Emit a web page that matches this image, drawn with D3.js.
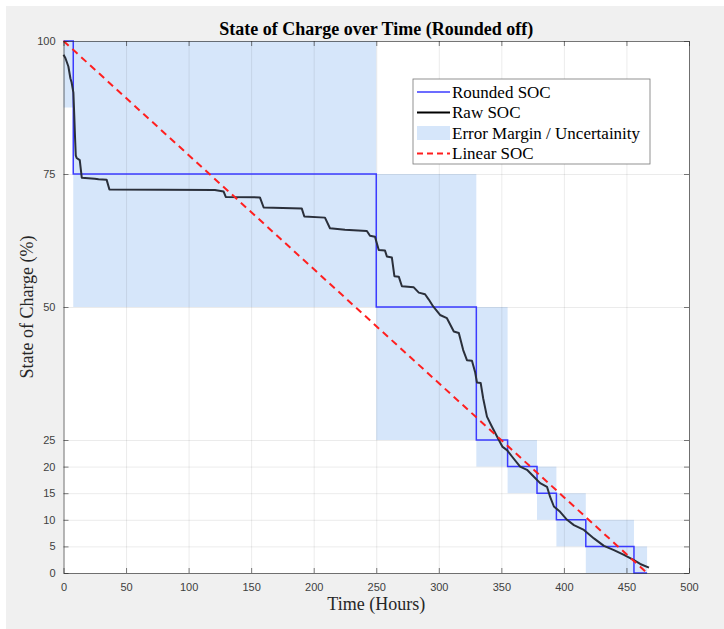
<!DOCTYPE html>
<html>
<head>
<meta charset="utf-8">
<script src="https://cdn.jsdelivr.net/npm/d3@7"></script>
<style>
  body { margin: 0; background: #f0f0f0; }
  svg { display: block; }
  .tick text { font-family: "Liberation Sans", Arial, sans-serif; font-size: 11px; fill: #404040; }
</style>
</head>
<body>
<script>
// figure size and axes box
var W = 724, H = 629;
var margin = {top: 41, right: 35, bottom: 56, left: 63.5};
var width = W - margin.left - margin.right;
var height = H - margin.top - margin.bottom;

// rounded SOC steps: level held from stepTime[i] to stepTime[i+1]
var stepTime = [0, 7.8, 250, 330, 355, 378.5, 394, 417.5, 456, 466.5];
var stepSoc = [100, 75, 50, 25, 20, 15, 10, 5, 0];
// error band around each step
var bandLow = [87.5, 50, 25, 20, 15, 10, 5, 0, 0];
var bandHigh = [100, 100, 75, 50, 25, 20, 15, 10, 5];

// straight-line SOC
var linearTime = [0, 466.5];
var linearSoc = [100, 0];

// raw measured SOC
var rawTime = [0, 1.5, 3.9, 5.5, 6.5, 7.9, 8.6, 9.2, 9.8, 10.5, 13, 14.6, 25, 28, 34.5, 36.7,
  121, 128, 129.7, 157, 160, 190.5, 192.5, 209, 213, 225, 242.5, 245, 249, 252, 257, 258.5,
  262.5, 264.5, 268, 270.5, 280, 284, 289, 292, 295.5, 301, 306.5, 312, 316, 319.5, 322.5,
  326.5, 329, 330.5, 333.5, 335.5, 338.5, 342.5, 348, 351, 354.5, 358.5, 365, 370.5, 376,
  381, 386.5, 389, 392, 397, 402.5, 408, 416, 424, 432, 440, 448, 456, 461, 468];
var rawSoc = [97.4, 96.8, 95.2, 93, 92.2, 90.3, 86, 82, 78.5, 78, 77.6, 74.3, 74.1, 74.0, 73.9, 72.1,
  72.0, 71.7, 70.7, 70.6, 68.7, 68.5, 67.0, 66.8, 64.8, 64.5, 64.3, 63.4, 63.2, 60.7, 60.6, 59.5,
  59.3, 55.8, 55.7, 53.9, 53.7, 52.7, 52.4, 51.4, 50.1, 48.5, 47.9, 45.4, 45.1, 41.9, 40.0,
  39.9, 37.8, 35.8, 35.7, 32.8, 29.4, 27.5, 25.0, 23.7, 23.1, 21.9, 20, 19.4, 18.1,
  16.9, 16.2, 14.3, 12.5, 11.5, 10.0, 9.0, 8.1, 6.5, 5.1, 4.3, 3.4, 2.4, 1.7, 1.0];

var xTicks = [0, 50, 100, 150, 200, 250, 300, 350, 400, 450, 500];
var yTicks = [0, 5, 10, 15, 20, 25, 50, 75, 100];

var legendNames = ["Rounded SOC", "Raw SOC", "Error Margin / Uncertainity", "Linear SOC"];

var blue = "#3b3bff", fillBlue = "#d6e6fa", red = "#ff1f1f", dark = "#2a2f3a";

var root = d3.select("body").append("svg").attr("width", W).attr("height", H);
root.append("rect").attr("width", W).attr("height", H).attr("fill", "#f0f0f0");
// thin white strip on top and left, as in the screenshot
root.append("rect").attr("width", W).attr("height", 6).attr("fill", "#fff");
root.append("rect").attr("width", 6).attr("height", H).attr("fill", "#fff");

var svg = root.append("g").attr("transform", "translate(" + margin.left + "," + margin.top + ")");

var x = d3.scaleLinear().domain([0, 500]).range([0, width]);
var y = d3.scaleLinear().domain([0, 100]).range([height, 0]);

svg.append("rect").attr("width", width).attr("height", height).attr("fill", "#fff");

// error margin boxes
svg.append("g").selectAll("rect")
  .data(stepSoc)
  .enter().append("rect")
  .attr("x", function(d, i) { return x(stepTime[i]); })
  .attr("width", function(d, i) { return x(stepTime[i + 1]) - x(stepTime[i]); })
  .attr("y", function(d, i) { return y(bandHigh[i]); })
  .attr("height", function(d, i) { return y(bandLow[i]) - y(bandHigh[i]); })
  .attr("fill", fillBlue);

// grid
svg.append("g").attr("class", "grid")
  .attr("transform", "translate(0," + height + ")")
  .call(d3.axisBottom(x).tickValues(xTicks).tickSize(-height).tickFormat(""));
svg.append("g").attr("class", "grid")
  .call(d3.axisLeft(y).tickValues(yTicks).tickSize(-width).tickFormat(""));
svg.selectAll(".grid .domain").remove();
svg.selectAll(".grid line").attr("stroke", "#000").attr("stroke-opacity", 0.08);

// rounded SOC
var stepPts = stepSoc.map(function(d, i) { return [stepTime[i], d]; });
stepPts.push([stepTime[stepTime.length - 1], stepSoc[stepSoc.length - 1]]);
svg.append("path")
  .datum(stepPts)
  .attr("fill", "none").attr("stroke", blue).attr("stroke-width", 1.5)
  .attr("d", d3.line().curve(d3.curveStepAfter)
    .x(function(d) { return x(d[0]); }).y(function(d) { return y(d[1]); }));

// raw SOC
svg.append("path")
  .datum(rawTime.map(function(t, i) { return [t, rawSoc[i]]; }))
  .attr("fill", "none").attr("stroke", dark).attr("stroke-width", 2)
  .attr("stroke-linejoin", "round")
  .attr("d", d3.line().x(function(d) { return x(d[0]); }).y(function(d) { return y(d[1]); }));

// linear SOC
svg.append("path")
  .datum(linearTime.map(function(t, i) { return [t, linearSoc[i]]; }))
  .attr("fill", "none").attr("stroke", red).attr("stroke-width", 2)
  .attr("stroke-dasharray", "7,5")
  .attr("d", d3.line().x(function(d) { return x(d[0]); }).y(function(d) { return y(d[1]); }));

// axes with inward ticks on all four sides
var axisColor = "#262626";
var xAxis = svg.append("g").attr("transform", "translate(0," + height + ")")
  .call(d3.axisBottom(x).tickValues(xTicks).tickSizeInner(-5).tickSizeOuter(0).tickPadding(8));
var yAxis = svg.append("g")
  .call(d3.axisLeft(y).tickValues(yTicks).tickSizeInner(-5).tickSizeOuter(0).tickPadding(8));
var xTop = svg.append("g")
  .call(d3.axisTop(x).tickValues(xTicks).tickSizeInner(-5).tickSizeOuter(0).tickFormat(""));
var yRight = svg.append("g").attr("transform", "translate(" + width + ",0)")
  .call(d3.axisRight(y).tickValues(yTicks).tickSizeInner(-5).tickSizeOuter(0).tickFormat(""));
[xAxis, yAxis, xTop, yRight].forEach(function(a) {
  a.select(".domain").attr("stroke", axisColor).attr("stroke-opacity", 0.6);
  a.selectAll(".tick line").attr("stroke", axisColor).attr("stroke-opacity", 0.6);
});
xAxis.selectAll(".tick text").attr("dy", "0.9em");

// title and labels
root.append("text")
  .attr("x", margin.left + width / 2).attr("y", 35)
  .attr("text-anchor", "middle")
  .style("font-family", "'Liberation Serif', 'Times New Roman', serif")
  .style("font-size", "18px").style("font-weight", "bold").attr("fill", "#000")
  .text("State of Charge over Time (Rounded off)");

root.append("text")
  .attr("x", margin.left + width / 2).attr("y", 610)
  .attr("text-anchor", "middle")
  .style("font-family", "'Liberation Serif', 'Times New Roman', serif")
  .style("font-size", "18px").attr("fill", "#262626")
  .text("Time (Hours)");

root.append("text")
  .attr("transform", "translate(33," + (margin.top + height / 2) + ") rotate(-90)")
  .attr("text-anchor", "middle")
  .style("font-family", "'Liberation Serif', 'Times New Roman', serif")
  .style("font-size", "18px").attr("fill", "#262626")
  .text("State of Charge (%)");

// legend
var lg = root.append("g").attr("transform", "translate(413,79)");
lg.append("rect").attr("width", 237).attr("height", 85)
  .attr("fill", "#fff").attr("stroke", "#777").attr("stroke-width", 0.8);
legendNames.forEach(function(name, i) {
  var ly = 13 + i * 20.5;
  if (i === 2) {
    lg.append("rect").attr("x", 4).attr("y", ly - 7).attr("width", 33).attr("height", 14).attr("fill", fillBlue);
  } else {
    lg.append("line").attr("x1", 4).attr("x2", 37).attr("y1", ly).attr("y2", ly)
      .attr("stroke", i === 0 ? blue : (i === 1 ? "#000" : red))
      .attr("stroke-width", i === 0 ? 1.5 : 2)
      .attr("stroke-dasharray", i === 3 ? "6,4" : null);
  }
  lg.append("text").attr("x", 39).attr("y", ly + 5.5)
    .style("font-family", "'Liberation Serif', 'Times New Roman', serif")
    .style("font-size", "17px").attr("fill", "#000")
    .text(name);
});
</script>
</body>
</html>
